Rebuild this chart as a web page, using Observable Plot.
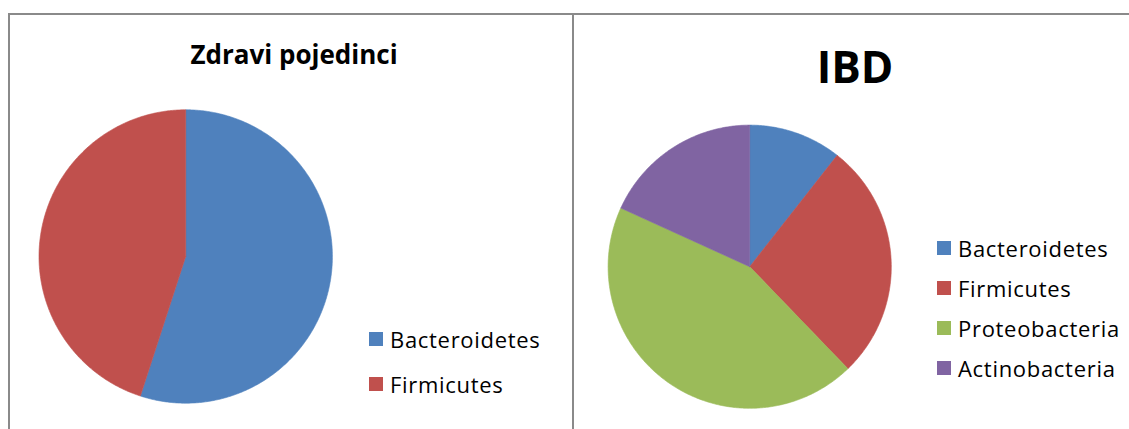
<!DOCTYPE html>
<html><head><meta charset="utf-8">
<script src="https://cdn.jsdelivr.net/npm/d3@7"></script>
<script src="https://cdn.jsdelivr.net/npm/@observablehq/plot@0.6"></script>
<style>
body{margin:0;background:#fff;}
#wrap{position:relative;width:1129px;height:429px;overflow:hidden;font-family:"Open Sans",sans-serif;background:#fff;}
.panel{position:absolute;top:0;height:429px;}
.line{position:absolute;background:#8a8a8a;}
.title{position:absolute;font-weight:bold;color:#000;white-space:nowrap;transform:translateX(-50%);line-height:1;}
.legend{position:absolute;display:flex;flex-direction:column;}
.item{display:flex;align-items:center;color:#000;white-space:nowrap;font-size:22px;letter-spacing:0.7px;}
.sw{width:14px;height:14px;margin-right:7px;flex:none;}
</style></head>
<body>
<div id="wrap"></div>
<script>
const healthyTitle = "Zdravi pojedinci";
const healthyCategories = ["Bacteroidetes", "Firmicutes"];
const healthyValues = [55, 45];

const ibdTitle = "IBD";
const ibdCategories = ["Bacteroidetes", "Firmicutes", "Proteobacteria", "Actinobacteria"];
const ibdValues = [10.6, 27.2, 44.0, 18.2];

const colorCategories = ["Bacteroidetes", "Firmicutes", "Proteobacteria", "Actinobacteria"];
const colorRange = ["#4F81BD", "#C0504D", "#9BBB59", "#8064A2"];

function slicePoints(categories, values) {
  const data = categories.map((c, i) => ({category: c, value: values[i]}));
  const arcs = d3.pie().sort(null).value(d => d.value)(data);
  const pts = [];
  for (const a of arcs) {
    const cat = a.data.category;
    pts.push({category: cat, x: 0, y: 0});
    const n = Math.max(2, Math.ceil((a.endAngle - a.startAngle) / 0.01));
    for (let k = 0; k <= n; k++) {
      const t = a.startAngle + (a.endAngle - a.startAngle) * k / n;
      pts.push({category: cat, x: Math.sin(t), y: Math.cos(t)});
    }
    pts.push({category: cat, x: 0, y: 0});
  }
  return pts;
}

function pie(categories, values, width, cx, cy, r) {
  return Plot.plot({
    width, height: 429, margin: 0,
    style: {background: "transparent", overflow: "visible"},
    x: {domain: [-1, 1], range: [cx - r, cx + r], axis: null},
    y: {domain: [-1, 1], range: [cy + r, cy - r], axis: null},
    color: {domain: colorCategories, range: colorRange},
    marks: [
      Plot.line(slicePoints(categories, values), {
        x: "x", y: "y", z: "category", fill: "category", stroke: "category",
        strokeWidth: 0.6, curve: "linear"
      })
    ]
  });
}

function legend(categories, left, top, rowH) {
  const div = document.createElement("div");
  div.className = "legend";
  div.style.left = left + "px";
  div.style.top = top + "px";
  const col = d3.scaleOrdinal(colorCategories, colorRange);
  for (const c of categories) {
    const it = document.createElement("div");
    it.className = "item";
    it.style.height = rowH + "px";
    const sw = document.createElement("span");
    sw.className = "sw";
    sw.style.background = col(c);
    const tx = document.createElement("span");
    tx.textContent = c;
    it.append(sw, tx);
    div.append(it);
  }
  return div;
}

const wrap = document.getElementById("wrap");

const left = document.createElement("div");
left.className = "panel"; left.style.left = "0px"; left.style.width = "573px";
left.append(pie(healthyCategories, healthyValues, 573, 185.2, 256, 146.7));
wrap.append(left);

const right = document.createElement("div");
right.className = "panel"; right.style.left = "573px"; right.style.width = "556px";
right.append(pie(ibdCategories, ibdValues, 556, 176.2, 266.2, 141.6));
wrap.append(right);

function addLine(l, t, w, h) {
  const d = document.createElement("div");
  d.className = "line";
  Object.assign(d.style, {left: l + "px", top: t + "px", width: w + "px", height: h + "px"});
  wrap.append(d);
}
addLine(8, 13, 1121, 2);
addLine(8, 13, 2, 416);
addLine(572, 13, 2, 416);

function addTitle(text, cx, top, size) {
  const d = document.createElement("div");
  d.className = "title";
  d.textContent = text;
  Object.assign(d.style, {left: cx + "px", top: top + "px", fontSize: size + "px"});
  wrap.append(d);
}
addTitle(healthyTitle, 294, 41, 26);
addTitle(ibdTitle, 855, 44, 44);

wrap.append(legend(healthyCategories, 369, 316, 45));
wrap.append(legend(ibdCategories, 937, 228, 40));
</script>
</body></html>
